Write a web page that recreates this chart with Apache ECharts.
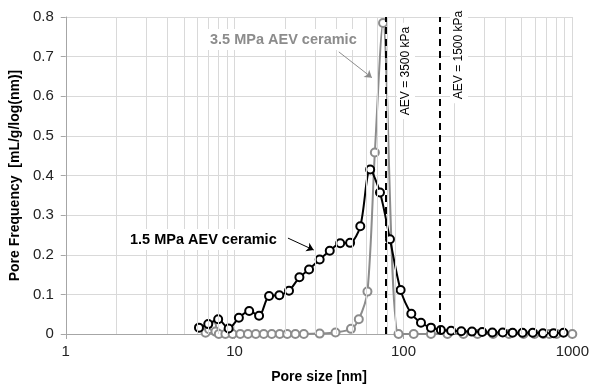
<!DOCTYPE html>
<html>
<head>
<meta charset="utf-8">
<script src="https://cdn.jsdelivr.net/npm/echarts@6/dist/echarts.min.js"></script>
<style>
  html, body { margin: 0; padding: 0; background: #fff; }
  #chart { width: 592px; height: 389px; }
</style>
</head>
<body>
<div id="chart"></div>
<script>
// 1.5 MPa AEV ceramic (black)
const poreSize15 = [6.15, 6.98, 7.99, 9.22, 10.6, 12.2, 13.96, 16.0, 18.4, 21.0, 24.2, 27.6, 31.9, 36.6, 42.2, 48.3, 55.5, 63.5, 72.6, 83.2, 96.2, 111.3, 127, 145.5, 166.5, 191.5, 220, 254.5, 292.6, 336, 387, 443, 507, 583, 670, 774, 887];
const freq15 = [0.016, 0.025, 0.037, 0.014, 0.041, 0.058, 0.046, 0.096, 0.098, 0.109, 0.143, 0.163, 0.188, 0.210, 0.229, 0.230, 0.272, 0.415, 0.357, 0.239, 0.111, 0.051, 0.0285, 0.016, 0.010, 0.008, 0.007, 0.006, 0.005, 0.004, 0.004, 0.003, 0.003, 0.003, 0.002, 0.002, 0.003];

// 3.5 MPa AEV ceramic (grey)
const poreSize35 = [6.73, 7.06, 7.35, 7.7, 8.06, 8.82, 9.73, 10.8, 12.0, 13.35, 14.88, 16.6, 18.5, 20.5, 22.9, 25.7, 31.9, 39.6, 48.9, 54.4, 61.2, 67.7, 75.7, 93.5, 115, 145.5, 182.3, 226.5, 274.6, 339.5, 421.5, 514, 597, 674, 731, 807, 1000];
const freq35 = [0.003, 0.012, 0.02, 0.006, 0.0, 0.0, 0.0, 0.0, 0.0, 0.0, 0.0, 0.0, 0.0, 0.0, 0.0, 0.0, 0.001, 0.004, 0.013, 0.037, 0.107, 0.458, 0.785, 0.0, 0.0, 0.0, 0.0, 0.0, 0.0, 0.0, 0.0, 0.0, 0.0, 0.0, 0.0, 0.0, 0.0];

// AEV markers [nm]
const aevLines = [78.5, 163];
const aevLabels = ['AEV = 3500 kPa', 'AEV = 1500 kPa'];

// minor log grid lines
const minorGrid = [];
[1, 10, 100].forEach(d => { for (let k = 2; k <= 9; k++) minorGrid.push(k * d); });

const zip = (xs, ys) => xs.map((x, i) => [x, ys[i]]);

const chart = echarts.init(document.getElementById('chart'));
const font = '"Liberation Sans", "DejaVu Sans", sans-serif';
const gridColor = '#d9d9d9';

chart.setOption({
  animation: false,
  textStyle: { fontFamily: font },
  grid: { left: 64, right: 17, top: 17, bottom: 55 },
  xAxis: {
    type: 'log',
    logBase: 10,
    min: 1,
    max: 1000,
    name: 'Pore size [nm]',
    nameLocation: 'middle',
    nameGap: 36,
    nameTextStyle: { fontSize: 14, fontWeight: 'bold', color: '#000', fontFamily: font },
    axisLine: { show: true, lineStyle: { color: '#a6a6a6', width: 1 } },
    axisTick: { show: true, length: 5, lineStyle: { color: '#a6a6a6' } },
    axisLabel: { fontSize: 15, color: '#222', margin: 10, fontFamily: font, formatter: v => String(Math.round(v)) },
    splitLine: { show: true, lineStyle: { color: gridColor, width: 1 } }
  },
  yAxis: {
    type: 'value',
    min: 0,
    max: 0.8,
    interval: 0.1,
    name: 'Pore Frequency  [mL/g/log(nm)]',
    nameLocation: 'middle',
    nameGap: 40,
    nameTextStyle: { fontSize: 14, fontWeight: 'bold', color: '#000', fontFamily: font },
    axisLine: { show: true, lineStyle: { color: '#a6a6a6', width: 1 } },
    axisTick: { show: true, inside: false, length: 5, lineStyle: { color: '#a6a6a6' } },
    axisLabel: { fontSize: 15, color: '#222', margin: 12, fontFamily: font },
    splitLine: { show: true, lineStyle: { color: gridColor, width: 1 } }
  },
  series: [
    {
      name: 'minor grid',
      type: 'line',
      data: [],
      z: 1,
      silent: true,
      markLine: {
        silent: true,
        symbol: ['none', 'none'],
        label: { show: false },
        lineStyle: { color: gridColor, width: 1, type: 'solid' },
        data: minorGrid.map(v => ({ xAxis: v }))
      }
    },
    {
      name: '3.5 MPa AEV ceramic',
      type: 'line',
      data: zip(poreSize35, freq35),
      smooth: 0.3,
      z: 3,
      symbol: 'emptyCircle',
      symbolSize: 8,
      lineStyle: { color: '#8c8c8c', width: 2 },
      itemStyle: { color: '#8c8c8c', borderColor: '#8c8c8c', borderWidth: 1.5 },
      markLine: {
        silent: true,
        symbol: ['none', 'arrow'],
        symbolSize: 7,
        label: { show: false },
        lineStyle: { color: '#8c8c8c', width: 1, type: 'solid' },
        data: [[{ coord: [41.4, 0.712] }, { coord: [65.0, 0.647] }]]
      }
    },
    {
      name: '1.5 MPa AEV ceramic',
      type: 'line',
      data: zip(poreSize15, freq15),
      smooth: 0.3,
      z: 4,
      symbol: 'emptyCircle',
      symbolSize: 8,
      lineStyle: { color: '#000', width: 2 },
      itemStyle: { color: '#000', borderColor: '#000', borderWidth: 1.5 },
      markLine: {
        silent: true,
        symbol: ['none', 'arrow'],
        symbolSize: 7,
        label: { show: false },
        lineStyle: { color: '#000', width: 1, type: 'solid' },
        data: [[{ coord: [20.7, 0.242] }, { coord: [29.4, 0.212] }]]
      }
    },
    {
      name: 'AEV',
      type: 'line',
      data: [],
      z: 5,
      silent: true,
      markLine: {
        silent: true,
        symbol: ['none', 'none'],
        label: { show: false },
        lineStyle: { color: '#000', width: 2, type: [7, 5] },
        data: aevLines.map(v => [{ coord: [v, 0] }, { coord: [v, 0.8] }])
      }
    }
  ],
  graphic: [
    {
      type: 'text', left: 205, top: 29, z: 10,
      style: {
        text: '3.5 MPa AEV ceramic', fill: '#8c8c8c', font: 'bold 14.5px ' + font,
        backgroundColor: '#fff', padding: [3, 5]
      }
    },
    {
      type: 'text', left: 125, top: 229, z: 10,
      style: {
        text: '1.5 MPa AEV ceramic', fill: '#000', font: 'bold 14.5px ' + font,
        backgroundColor: '#fff', padding: [3, 5]
      }
    },
    {
      type: 'text', x: 406, y: 71, rotation: Math.PI / 2, z: 10,
      style: {
        text: aevLabels[0], fill: '#000', font: '12px ' + font,
        align: 'center', verticalAlign: 'middle',
        backgroundColor: '#fff', padding: [3, 4]
      }
    },
    {
      type: 'text', x: 459, y: 55, rotation: Math.PI / 2, z: 10,
      style: {
        text: aevLabels[1], fill: '#000', font: '12px ' + font,
        align: 'center', verticalAlign: 'middle',
        backgroundColor: '#fff', padding: [3, 4]
      }
    }
  ]
});
</script>
</body>
</html>
